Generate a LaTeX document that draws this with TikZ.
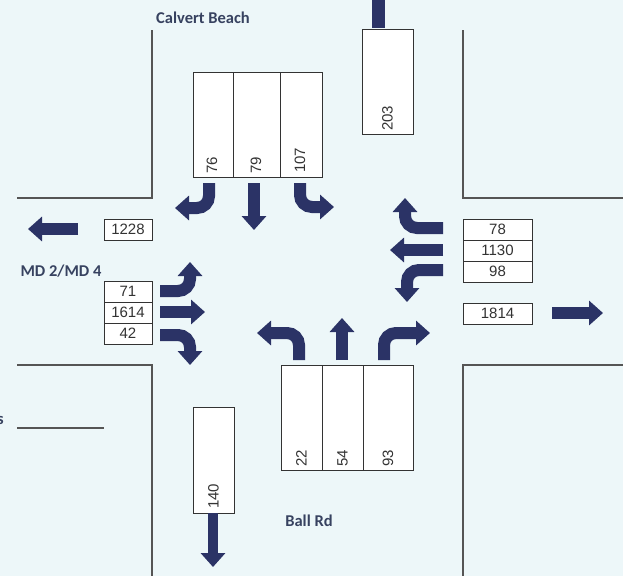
\documentclass[tikz,border=0pt]{standalone}
\usepackage{fontspec}
\setmainfont{Liberation Sans}
\newfontfamily\lblfont{Carlito}
\usetikzlibrary{arrows.meta}
\definecolor{bg}{RGB}{237,247,249}
\definecolor{navy}{RGB}{43,51,102}
\definecolor{road}{RGB}{85,85,85}
\definecolor{lbl}{RGB}{55,66,96}
\begin{document}
\begin{tikzpicture}[x=1pt,y=-1pt,
  roadline/.style={draw=road,line width=1.2pt},
  cnt/.style={draw=black!80,line width=0.7pt,fill=white},
  divl/.style={draw=black!80,line width=0.7pt},
  num/.style={font=\fontsize{15}{15}\selectfont, text=black!80, inner sep=0pt},
  vnum/.style={num, rotate=90, anchor=west},
  mv/.style={draw=navy, line width=12pt, rounded corners=12pt, -{Triangle[width=24pt,length=14pt]}},
  street/.style={font=\lblfont\bfseries\fontsize{16.5}{16.5}\selectfont, text=lbl, inner sep=0pt}]
\fill[bg] (0,0) rectangle (623,576);
\useasboundingbox (0,0) rectangle (623,576);
% road edges
\draw[roadline] (152,30) -- (152,198) -- (17,198);
\draw[roadline] (463,30) -- (463,198) -- (623,198);
\draw[roadline] (17,365) -- (152,365) -- (152,576);
\draw[roadline] (623,365) -- (463,365) -- (463,576);
\draw[roadline] (17,428) -- (104,428);
% southbound approach
\draw[cnt] (193,72) rectangle (322,177);
\draw[divl] (233,72) -- (233,177);
\draw[divl] (280,72) -- (280,177);
\node[vnum] (n76) at (212,174) {76};
\node[vnum] (n79) at (256,174) {79};
\node[vnum] (n107) at (300,173) {107};
% northbound departure
\fill[navy] (372,0) rectangle (385,28);
\draw[cnt] (362,29) rectangle (413,134);
\node[vnum] (n203) at (387.5,131) {203};
% westbound departure
\draw[cnt] (104,219) rectangle (152,240);
\node[num] (n1228) at (128,229.5) {1228};
% eastbound approach
\draw[cnt] (104,281) rectangle (152,344);
\draw[divl] (104,302) -- (152,302);
\draw[divl] (104,323) -- (152,323);
\node[num] (n71) at (128,291.5) {71};
\node[num] (n1614) at (128,312.5) {1614};
\node[num] (n42) at (128,333.5) {42};
% westbound approach
\draw[cnt] (463,219) rectangle (532,282);
\draw[divl] (463,240) -- (532,240);
\draw[divl] (463,261) -- (532,261);
\node[num] (n78) at (497.5,229.5) {78};
\node[num] (n1130) at (497.5,250.5) {1130};
\node[num] (n98) at (497.5,271.5) {98};
% eastbound departure
\draw[cnt] (463,303) rectangle (532,324);
\node[num] (n1814) at (497.5,313.5) {1814};
% northbound approach
\draw[cnt] (281,365) rectangle (413,470);
\draw[divl] (322,365) -- (322,470);
\draw[divl] (363,365) -- (363,470);
\node[vnum] (n22) at (301.5,467) {22};
\node[vnum] (n54) at (342.5,467) {54};
\node[vnum] (n93) at (388,467) {93};
% southbound departure
\draw[cnt] (193,407) rectangle (234,513);
\node[vnum] (n140) at (213.5,509) {140};
% departure arrows
\draw[mv] (78,229) -- (28,229);
\draw[mv] (552,313) -- (603,313);
\draw[mv, line width=10pt] (213,513) -- (213,567);
% southbound movements
\draw[mv] (209,183) -- (209,208) -- (175,208);
\draw[mv] (254,183) -- (254,230);
\draw[mv] (300,183) -- (300,207) -- (334,207);
% westbound movements
\draw[mv] (443,228) -- (405,228) -- (405,198);
\draw[mv] (443,250) -- (390,250);
\draw[mv] (443,270) -- (407,270) -- (407,302);
% eastbound movements
\draw[mv] (160,291) -- (190,291) -- (190,262);
\draw[mv] (160,312) -- (205,312);
\draw[mv] (160,335) -- (190,335) -- (190,365);
% northbound movements
\draw[mv] (299,360) -- (299,333) -- (257,333);
\draw[mv] (342,360) -- (342,318);
\draw[mv] (384,360) -- (384,333) -- (430,333);
% street names
\node[street] (cb) at (203,18) {Calvert Beach};
\node[street] (md) at (61,271) {MD 2/MD 4};
\node[street] (ball) at (309,521) {Ball Rd};
\node[street, anchor=east] (frag) at (4,420) {s};
\end{tikzpicture}
\end{document}
